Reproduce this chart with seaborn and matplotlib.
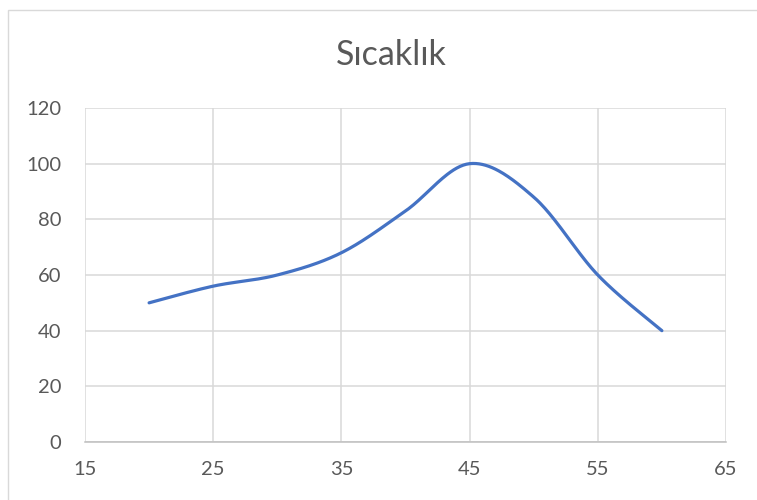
import numpy as np
import pandas as pd
import matplotlib
matplotlib.use("Agg")
import matplotlib.pyplot as plt
from matplotlib.patches import Rectangle
import seaborn as sns

# Temperature readings
x_values = [20, 25, 30, 35, 40, 45, 50, 55, 60]
y_values = [50, 56, 60, 68, 83, 100, 88, 60, 40]
x_ticks = [15, 25, 35, 45, 55, 65]
y_ticks = [0, 20, 40, 60, 80, 100, 120]
title = "Sıcaklık"


def smooth_curve(xs, ys, steps=40):
    """Catmull-Rom smoothing through the given points (spreadsheet style)."""
    p = np.column_stack([xs, ys]).astype(float)
    p = np.vstack([p[0], p, p[-1]])
    out = []
    for i in range(1, len(p) - 2):
        p0, p1, p2, p3 = p[i - 1], p[i], p[i + 1], p[i + 2]
        c1 = p1 + (p2 - p0) / 6.0
        c2 = p2 - (p3 - p1) / 6.0
        t = np.linspace(0, 1, steps, endpoint=(i == len(p) - 3))[:, None]
        seg = ((1 - t) ** 3) * p1 + 3 * ((1 - t) ** 2) * t * c1 + 3 * (1 - t) * t ** 2 * c2 + t ** 3 * p2
        out.append(seg)
    out = np.vstack(out)
    return out[:, 0], out[:, 1]


sns.set_theme(style="white")
plt.rcParams["font.family"] = ["Lato", "DejaVu Sans"]

fig = plt.figure(figsize=(7.57, 5.00), dpi=100)
ax = fig.add_axes([85 / 757, 1 - 442 / 500, (726 - 85) / 757, (442 - 108) / 500])

sx, sy = smooth_curve(x_values, y_values)
curve = pd.DataFrame({"x": sx, "y": sy})
sns.lineplot(data=curve, x="x", y="y", ax=ax, color="#4472C4", linewidth=2.3,
             sort=False, estimator=None, solid_capstyle="round")

ax.set_xlim(15, 65)
ax.set_ylim(0, 120)
ax.set_xticks(x_ticks)
ax.set_yticks(y_ticks)
ax.grid(True, color="#d9d9d9", linewidth=1.1)
ax.set_axisbelow(True)
ax.tick_params(axis="both", length=0, labelsize=14.5, labelcolor="#595959")
ax.tick_params(axis="y", pad=17)
ax.tick_params(axis="x", pad=14)
ax.set_xlabel("")
ax.set_ylabel("")
for side in ["left", "right", "top"]:
    ax.spines[side].set_visible(False)
ax.spines["bottom"].set_color("#bfbfbf")
ax.spines["bottom"].set_linewidth(1.1)

fig.text(391 / 757, 1 - 55 / 500, title, ha="center", va="center",
         fontsize=24.5, color="#595959")

# Chart area border
fig.patches.append(Rectangle((8 / 757, -0.1), 1.2, 1 - 10 / 500 + 0.1,
                             transform=fig.transFigure, fill=False,
                             edgecolor="#d9d9d9", linewidth=1.0))

fig.savefig("out.png", dpi=100)
